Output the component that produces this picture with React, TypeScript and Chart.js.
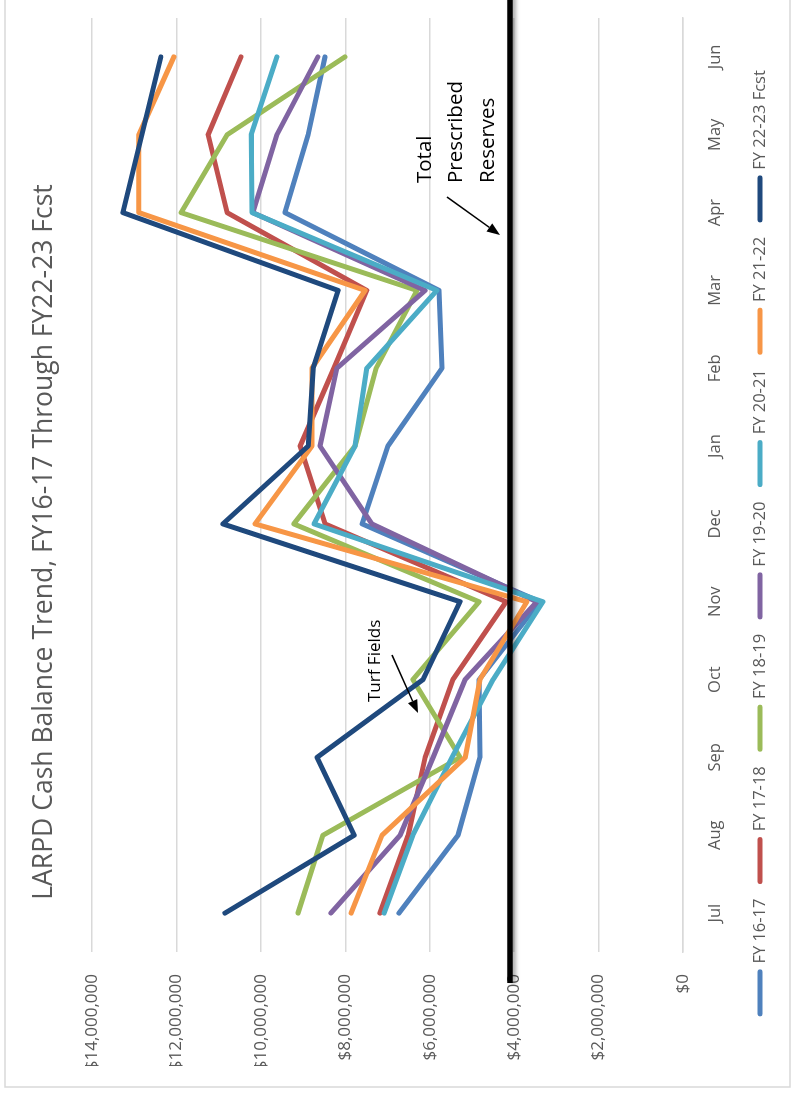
import React, { useEffect, useRef } from "react";
import { Chart, registerables } from "chart.js";

Chart.register(...registerables);

// ---------- data ----------
const TITLE = "LARPD Cash Balance Trend, FY16-17 Through FY22-23 Fcst";
const MONTHS = ["Jul", "Aug", "Sep", "Oct", "Nov", "Dec", "Jan", "Feb", "Mar", "Apr", "May", "Jun"];

const FY16_17 = [6730000, 5330000, 4810000, 4830000, 3390000, 7600000, 6990000, 5710000, 5780000, 9430000, 8880000, 8480000];
const FY17_18 = [7180000, 6510000, 6110000, 5450000, 4190000, 8480000, 9070000, 8270000, 7490000, 10800000, 11250000, 10470000];
const FY18_19 = [9120000, 8530000, 5280000, 6400000, 4830000, 9220000, 7770000, 7270000, 6300000, 11890000, 10800000, 8010000];
const FY19_20 = [8340000, 6700000, 5920000, 5160000, 3460000, 7370000, 8600000, 8200000, 6110000, 10190000, 9620000, 8650000];
const FY20_21 = [7080000, 6400000, 5470000, 4500000, 3320000, 8740000, 7770000, 7490000, 5830000, 10210000, 10230000, 9620000];
const FY21_22 = [7860000, 7130000, 5160000, 4810000, 3700000, 10140000, 8790000, 8790000, 7530000, 12890000, 12890000, 12060000];
const FY22_23_FCST = [10850000, 7790000, 8670000, 6160000, 5280000, 10900000, 8880000, 8760000, 8170000, 13270000, 12820000, 12370000];

const SERIES_LABELS = ["FY 16-17", "FY 17-18", "FY 18-19", "FY 19-20", "FY 20-21", "FY 21-22", "FY 22-23 Fcst"];
const SERIES_VALUES = [FY16_17, FY17_18, FY18_19, FY19_20, FY20_21, FY21_22, FY22_23_FCST];
const SERIES_COLORS = ["#4F81BD", "#C0504D", "#9BBB59", "#8064A2", "#4BACC6", "#F79646", "#1F497D"];

const Y_MIN = 0;
const Y_MAX = 14000000;
const Y_STEP = 2000000;
const RESERVES = 4100000;
const RESERVES_LABEL = ["Total", "Prescribed", "Reserves"];
const TURF_LABEL = "Turf Fields";

// ---------- layout (unrotated chart coordinates) ----------
const W = 1108;
const H = 793;
const PAGE_H = 1096;
const TEXT = "#595959";
const GRID = "#d9d9d9";
const FONT = "'Open Sans', 'DejaVu Sans', sans-serif";

function arrow(ctx: CanvasRenderingContext2D, x1: number, y1: number, x2: number, y2: number) {
  const ang = Math.atan2(y2 - y1, x2 - x1);
  const len = 13;
  const hw = 5;
  const bx = x2 - len * Math.cos(ang);
  const by = y2 - len * Math.sin(ang);
  ctx.save();
  ctx.strokeStyle = "#000";
  ctx.fillStyle = "#000";
  ctx.lineWidth = 1.5;
  ctx.beginPath();
  ctx.moveTo(x1, y1);
  ctx.lineTo(bx, by);
  ctx.stroke();
  ctx.beginPath();
  ctx.moveTo(x2, y2);
  ctx.lineTo(bx + hw * Math.sin(ang), by - hw * Math.cos(ang));
  ctx.lineTo(bx - hw * Math.sin(ang), by + hw * Math.cos(ang));
  ctx.closePath();
  ctx.fill();
  ctx.restore();
}

const framePlugin = {
  id: "frame",
  beforeDraw(chart: any) {
    const ctx = chart.ctx as CanvasRenderingContext2D;
    ctx.save();
    ctx.fillStyle = "#fff";
    ctx.fillRect(0, 0, chart.width, chart.height);
    ctx.strokeStyle = GRID;
    ctx.lineWidth = 1.5;
    ctx.beginPath();
    ctx.moveTo(chart.width + 5, 5);
    ctx.lineTo(9, 5);
    ctx.lineTo(9, 790);
    ctx.lineTo(chart.width + 5, 790);
    ctx.stroke();
    ctx.restore();
  },
  afterDatasetsDraw(chart: any) {
    const ctx = chart.ctx as CanvasRenderingContext2D;
    const y = chart.scales.y.getPixelForValue(RESERVES);
    // reserves line
    ctx.save();
    ctx.shadowColor = "rgba(0,0,0,0.35)";
    ctx.shadowBlur = 4;
    ctx.shadowOffsetY = 3;
    ctx.strokeStyle = "#000";
    ctx.lineWidth = 5.5;
    ctx.beginPath();
    ctx.moveTo(113, y);
    ctx.lineTo(chart.width + 10, y);
    ctx.stroke();
    ctx.restore();

    // annotations
    ctx.save();
    ctx.fillStyle = "#000";
    ctx.textAlign = "left";
    ctx.textBaseline = "middle";
    ctx.font = `20.5px ${FONT}`;
    const rows = [425, 456, 488];
    RESERVES_LABEL.forEach((t, i) => ctx.fillText(t, 913, rows[i]));
    ctx.font = `17px ${FONT}`;
    ctx.fillText(TURF_LABEL, 394, 375);
    ctx.restore();
    arrow(ctx, 899, 447, 861, 500);
    arrow(ctx, 441, 392, 383, 418);
  },
};

export default function App() {
  const ref = useRef<HTMLCanvasElement | null>(null);

  useEffect(() => {
    if (!ref.current) return;
    Chart.defaults.font.family = FONT;
    const n = SERIES_VALUES.length;
    const chart = new Chart(ref.current, {
      type: "line",
      data: {
        labels: MONTHS,
        datasets: SERIES_VALUES.map((vals, i) => ({
          label: SERIES_LABELS[i],
          data: vals,
          borderColor: SERIES_COLORS[i],
          backgroundColor: SERIES_COLORS[i],
          borderWidth: 5,
          borderJoinStyle: "round" as const,
          borderCapStyle: "round" as const,
          pointRadius: 0,
          pointHoverRadius: 0,
          tension: 0,
          fill: false,
          order: n - i,
        })),
      },
      options: {
        responsive: false,
        animation: false,
        layout: { padding: { left: 30, right: 30, top: 0, bottom: 14.75 } },
        plugins: {
          title: {
            display: true,
            text: TITLE,
            color: TEXT,
            font: { size: 26.5, weight: "normal" as any },
            padding: { top: 29, bottom: 31.2 },
          },
          legend: {
            position: "bottom",
            labels: {
              usePointStyle: true,
              pointStyle: "line",
              pointStyleWidth: 42,
              color: TEXT,
              font: { size: 16.5 },
              padding: 17,
              sort: (a: any, b: any) => a.datasetIndex - b.datasetIndex,
              generateLabels: (c: any) =>
                (Chart.defaults.plugins.legend.labels.generateLabels as any)(c).map((l: any) => ({
                  ...l,
                  lineCap: "round",
                  lineWidth: 5,
                })),
            },
          },
          tooltip: { enabled: false },
        },
        scales: {
          x: {
            offset: true,
            grid: { display: false },
            border: { display: true, color: GRID, width: 1.5 },
            ticks: { color: TEXT, font: { size: 16.5 }, padding: 14, maxRotation: 0, autoSkip: false },
            afterFit: (s: any) => {
              s.height = 51.75;
            },
          },
          y: {
            min: Y_MIN,
            max: Y_MAX,
            border: { display: false },
            grid: { color: GRID, lineWidth: 1.5, drawTicks: false },
            ticks: {
              stepSize: Y_STEP,
              color: TEXT,
              font: { size: 17 },
              padding: 22,
              callback: (v: any) => "$" + Number(v).toLocaleString("en-US"),
            },
            afterFit: (s: any) => {
              s.width = 114;
            },
          },
        },
      },
      plugins: [framePlugin],
    });
    return () => chart.destroy();
  }, []);

  return (
    <div
      style={{
        position: "fixed",
        left: 0,
        top: 0,
        width: 793,
        height: PAGE_H,
        overflow: "hidden",
        background: "#fff",
      }}
    >
      <div
        style={{
          position: "absolute",
          left: 0,
          top: 0,
          width: W,
          height: H,
          transformOrigin: "0 0",
          transform: `translate(0px, ${PAGE_H}px) rotate(-90deg)`,
        }}
      >
        <canvas ref={ref} width={W} height={H} style={{ display: "block", width: W, height: H }} />
      </div>
    </div>
  );
}
